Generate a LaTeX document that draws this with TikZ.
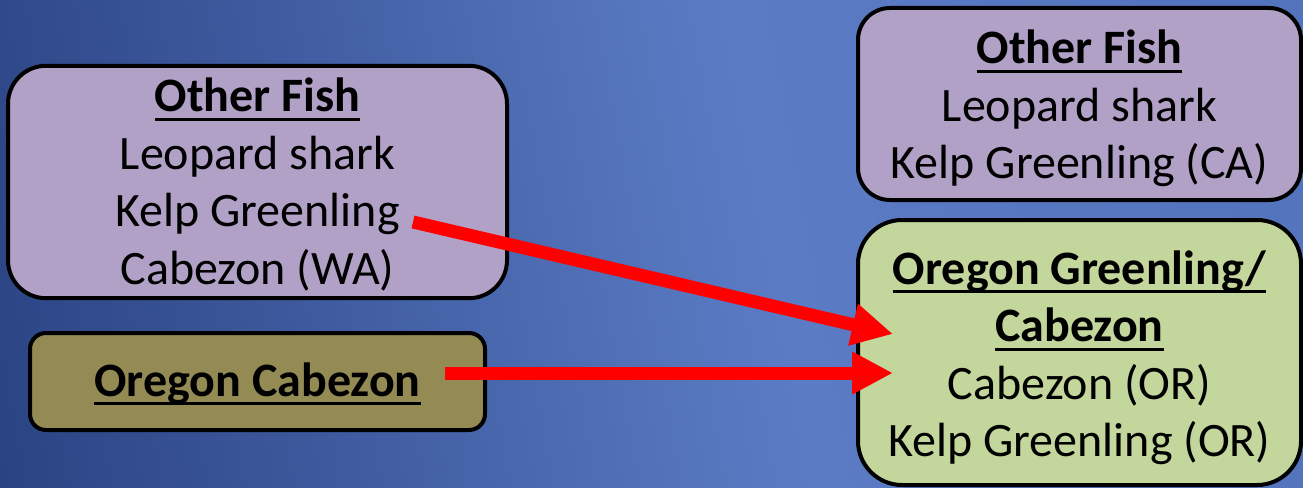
\documentclass[tikz,border=0pt]{standalone}
\usepackage{fontspec}
\setmainfont{Carlito}
\usetikzlibrary{arrows.meta}
\definecolor{bgdark}{HTML}{2A4383}
\definecolor{bglight}{HTML}{5B7CC5}
\definecolor{bgend}{HTML}{5373BC}
\definecolor{otherfill}{HTML}{B2A1C7}
\definecolor{olivefill}{HTML}{948A54}
\definecolor{greenfill}{HTML}{C3D69B}
\pgfdeclarehorizontalshading{bgshade}{100bp}{color(0bp)=(bgdark); color(21bp)=(bgdark);
  color(55bp)=(bglight); color(79bp)=(bgend); color(100bp)=(bgend)}
\newcommand{\hdr}[1]{\textbf{\setbox0\hbox{#1}\rlap{\rule[-9pt]{\wd0}{3pt}}\box0}}
\newcommand{\linetop}[1]{\rule{0pt}{#1pt}}
\newcommand{\linebot}{\rule[-14pt]{0pt}{14pt}}

\begin{document}
\begin{tikzpicture}[x=1pt, y=-1pt, >={Triangle[length=41pt, width=40pt]},
    every node/.style={draw=black, line width=4pt, align=center, inner sep=0pt,
      font=\fontsize{48}{57.5}\selectfont},
    flow/.style={->, draw=red, fill=red, line width=13pt}]
    % Background
    \useasboundingbox (0, 0) rectangle (1303, 487);
    \shade[shading=bgshade, shading angle=10.3] (0, 0) rectangle (1303, 487);

    % Nodes
    \node[fill=otherfill, rounded corners=38pt, minimum width=499pt, minimum height=230pt]
        at (257.5, 182) (otherL)
        {\linetop{45.9}\hdr{Other Fish}\\Leopard shark\\Kelp Greenling\\Cabezon (WA)\linebot};
    \node[fill=olivefill, rounded corners=16pt, minimum width=455pt, minimum height=97pt]
        at (257.5, 381.5) (cabOR) {\linetop{43}\hdr{Oregon Cabezon}\linebot};
    \node[fill=otherfill, rounded corners=32pt, minimum width=443pt, minimum height=192pt]
        at (1079.5, 104) (otherR)
        {\linetop{48.6}\hdr{Other Fish}\\Leopard shark\\Kelp Greenling (CA)\linebot};
    \node[fill=greenfill, rounded corners=44pt, minimum width=443pt, minimum height=265pt]
        at (1079.5, 352.5) (greenOR)
        {\linetop{50}\hdr{Oregon Greenling/}\\\hdr{Cabezon}\\Cabezon (OR)\\Kelp Greenling (OR)\linebot};

    % Arrow ends
    \coordinate (kelpOut) at (413, 222);
    \coordinate (cabOut) at (445, 373);
    \coordinate (greenIn1) at (893, 334);
    \coordinate (greenIn2) at (893, 373);

    % Edges
    \draw[flow] (kelpOut) -- (greenIn1);
    \draw[flow] (cabOut) -- (greenIn2);
\end{tikzpicture}
\end{document}
